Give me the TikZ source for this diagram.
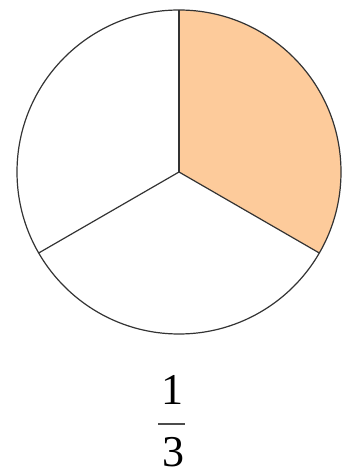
\documentclass[tikz,border=0pt]{standalone}
\usepackage{fontspec}
\setmainfont{Liberation Serif}
\usetikzlibrary{positioning}
\definecolor{piepeach}{HTML}{FDCB9B}
\definecolor{pieline}{HTML}{333333}
\tikzset{
  sector/.style={draw=pieline, line width=0.6pt},
  digit/.style={inner sep=0pt, font=\fontsize{22}{25}\selectfont},
  fracbar/.style={line width=0.8pt, draw=black!70},
}

\begin{document}
\begin{tikzpicture}[x=0.5pt, y=0.5pt]
    \useasboundingbox (0,0) rectangle (343,476);
    \coordinate (ctr) at (179,304);
    \fill[piepeach] (ctr) -- ++(90:162) arc (90:-30:162) -- cycle;
    \draw[sector] (ctr) circle (162);
    \draw[sector] (ctr) -- ++(90:162);
    \draw[sector] (ctr) -- ++(-30:162);
    \draw[sector] (ctr) -- ++(210:162);
    % the fraction 1/3
    \node[digit] (num) at (172,86) {1};
    \node[digit] (den) at (173,24) {3};
    \coordinate (barl) at (158,52);
    \coordinate (barr) at (185,52);
    \draw[fracbar] (barl) -- (barr);
  \end{tikzpicture}
\end{document}
